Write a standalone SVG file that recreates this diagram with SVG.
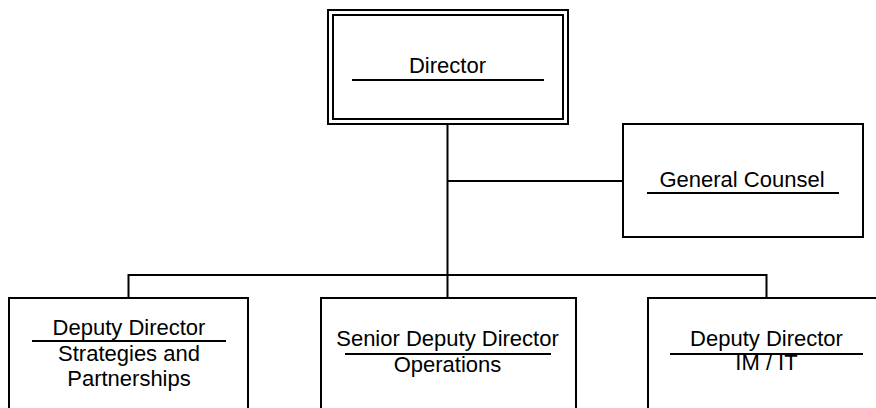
<svg xmlns="http://www.w3.org/2000/svg" width="876" height="408" viewBox="0 0 876 408">
<style>
.box{fill:#fff;stroke:#000;stroke-width:2}
.ln{fill:none;stroke:#000;stroke-width:2}
.ul{stroke:#000;stroke-width:2}
text{font-family:"Liberation Sans",Arial,sans-serif;font-size:22px;fill:#000;text-anchor:middle}
</style>
<rect width="876" height="408" fill="#fff"/>
<g id="connectors">
<path class="ln" d="M447.5 124V275M447.5 181H623M128.5 298V275H766.5V298M447.5 275V298"/>
</g>
<g id="director">
<rect class="box" x="328" y="10" width="240" height="114"/>
<rect class="box" x="333" y="15" width="230" height="104"/>
<text x="447.5" y="73">Director</text>
<line class="ul" x1="352" y1="80" x2="544" y2="80"/>
</g>
<g id="general-counsel">
<rect class="box" x="623" y="124" width="240" height="113"/>
<text x="742" y="187">General Counsel</text>
<line class="ul" x1="647" y1="193" x2="839" y2="193"/>
</g>
<g id="deputy-strategies">
<rect class="box" x="9" y="298" width="239" height="120"/>
<text x="129" y="335">Deputy Director</text>
<line class="ul" x1="32" y1="341" x2="226" y2="341"/>
<text x="129" y="361">Strategies and</text>
<text x="129" y="386">Partnerships</text>
</g>
<g id="senior-deputy-operations">
<rect class="box" x="321" y="298" width="255" height="120"/>
<text x="447.5" y="346">Senior Deputy Director</text>
<line class="ul" x1="345" y1="354" x2="551" y2="354"/>
<text x="447.5" y="372">Operations</text>
</g>
<g id="deputy-imit">
<rect class="box" x="648" y="298" width="240" height="120"/>
<text x="766.5" y="346">Deputy Director</text>
<line class="ul" x1="670" y1="354" x2="863" y2="354"/>
<text x="766.5" y="370">IM / IT</text>
</g>
</svg>
